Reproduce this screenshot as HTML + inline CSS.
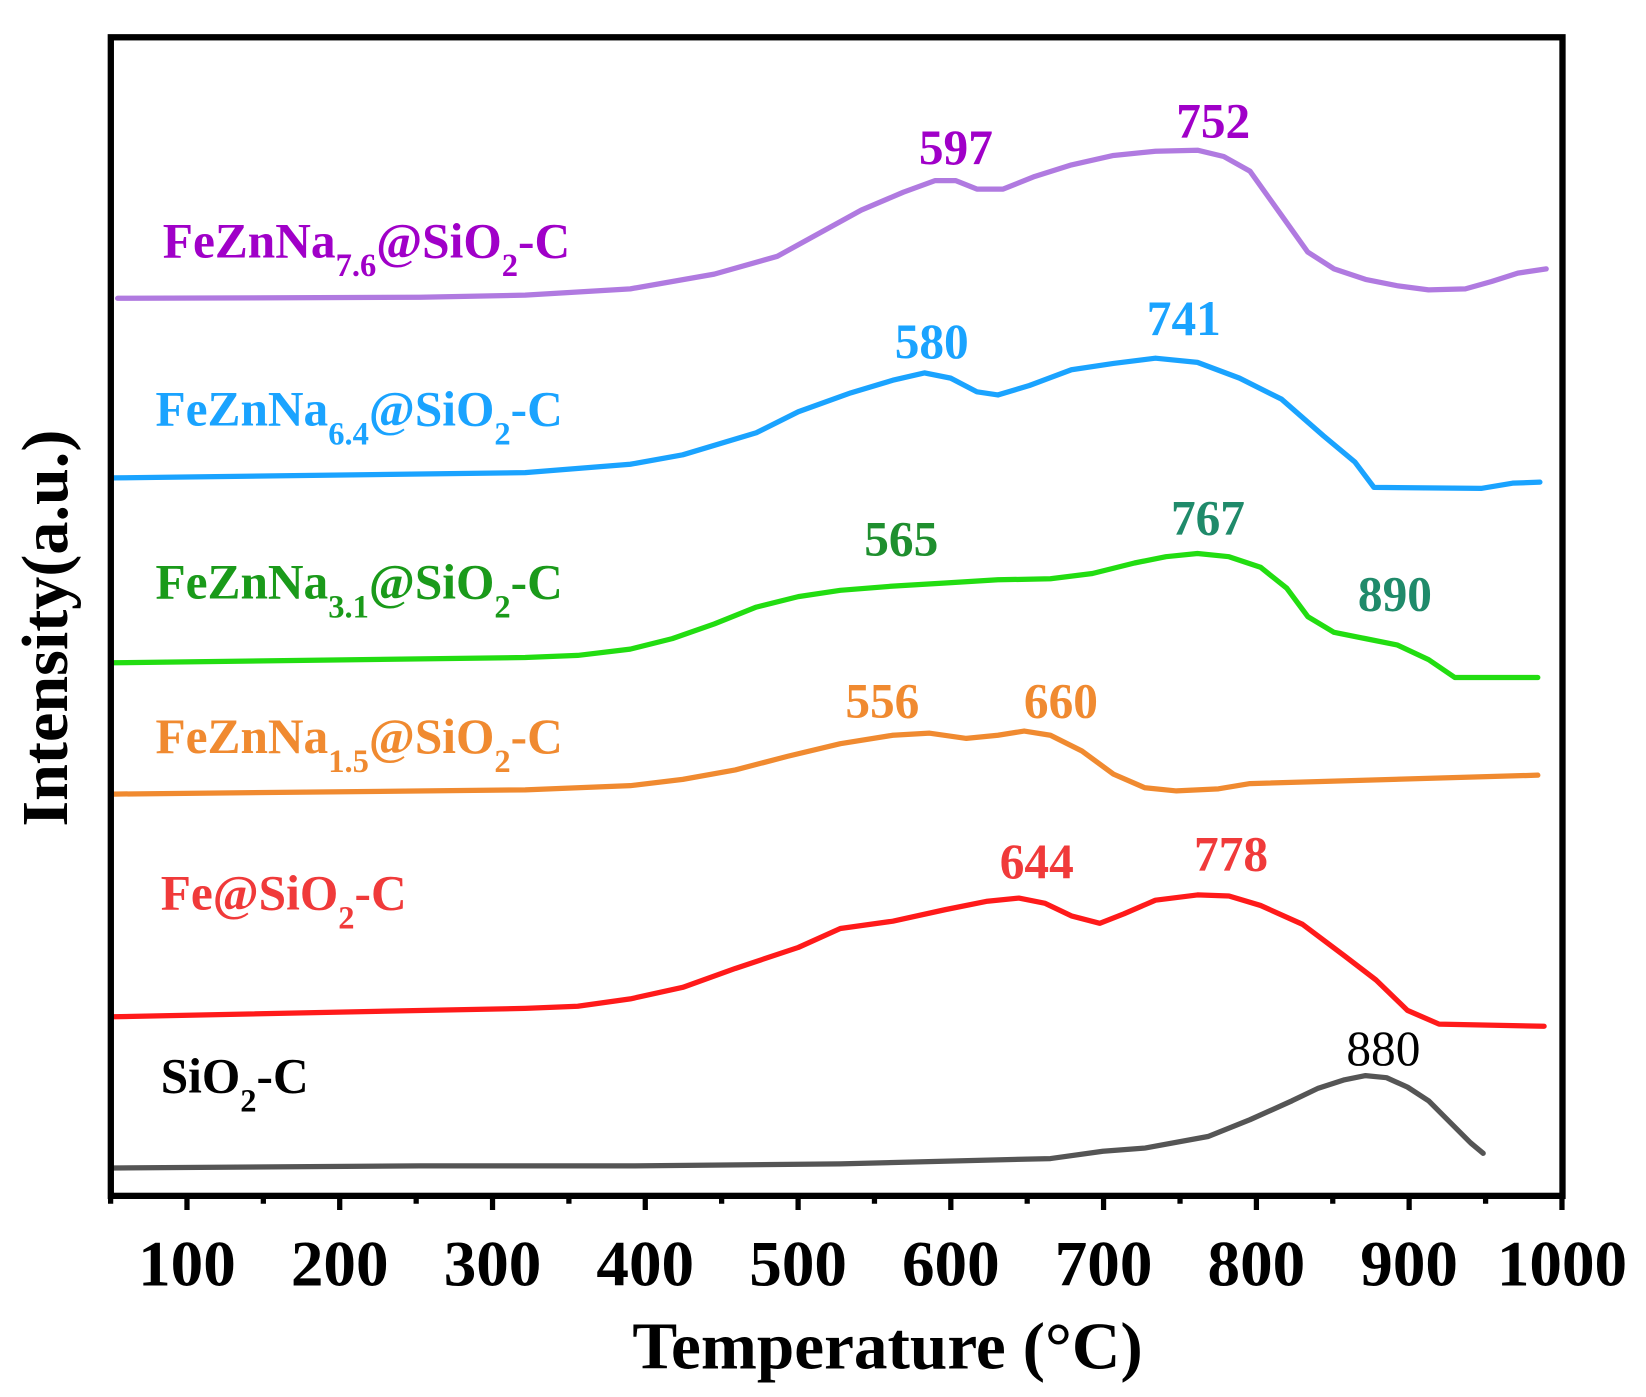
<!DOCTYPE html>
<html><head><meta charset="utf-8"><style>html,body{margin:0;padding:0;background:#fff}svg{display:block}</style></head>
<body>
<svg width="1646" height="1397" viewBox="0 0 1567 1330" preserveAspectRatio="none" xmlns="http://www.w3.org/2000/svg" font-family="Liberation Serif, serif" font-weight="bold">
<rect width="1567" height="1330" fill="#fff"/>
<g fill="none" stroke-width="5" stroke-linejoin="round" stroke-linecap="round">
<polyline stroke="#555" points="108,1112 400,1110 600,1110 800,1108 1000,1103 1050,1096 1090,1093 1150,1082 1190,1066 1230,1048 1255,1036 1280,1028 1300,1024 1320,1026 1340,1035 1360,1048 1380,1068 1400,1088 1412,1098"/>
<polyline stroke="#ff1a1a" points="108,968 500,960 550,958 600,951 650,940 700,922 760,902 800,884 850,877 900,866 940,858 970,855 995,860 1020,872 1047,879 1070,870 1100,857 1140,852 1170,853 1200,862 1240,880 1280,910 1310,933 1340,962 1370,975 1470,977"/>
<polyline stroke="#f08a30" points="108,756 500,752 600,748 650,742 700,733 750,720 800,708 850,700 885,698 920,703 950,700 975,696 1000,700 1030,715 1060,737 1090,750 1120,753 1160,751 1190,746 1464,738"/>
<polyline stroke="#22dd11" points="108,631 500,626 550,624 600,618 640,608 680,594 720,578 760,568 800,562 850,558 900,555 950,552 1000,551 1040,546 1080,536 1110,530 1140,527 1170,530 1200,540 1225,560 1245,587 1270,602 1300,608 1330,614 1360,628 1385,645 1464,645"/>
<polyline stroke="#1aa3ff" points="108,455 500,450 600,442 650,433 720,412 760,392 810,374 850,362 880,355 905,360 930,373 950,376 980,367 1020,352 1060,346 1100,341 1140,345 1180,360 1220,380 1260,415 1290,440 1308,464 1410,465 1440,460 1466,459"/>
<polyline stroke="#b07ae0" points="112,284 400,283 500,281 600,275 680,261 740,244 780,222 820,200 860,183 890,172 910,172 930,180 955,180 985,168 1020,157 1060,148 1100,144 1140,143 1165,149 1190,163 1220,205 1245,240 1270,256 1300,266 1330,272 1360,276 1395,275 1420,268 1445,260 1472,256"/>
</g>
<rect x="105.5" y="35.5" width="1382" height="1103" fill="none" stroke="#000" stroke-width="6"/>
<g stroke="#000" stroke-width="5">
<path d="M178,1140v12M323.4,1140v12M468.9,1140v12M614.3,1140v12M759.8,1140v12M905.2,1140v12M1050.6,1140v12M1196.1,1140v12M1341.5,1140v12M1487,1140v12"/>
<path d="M105.3,1140v6M250.7,1140v6M396.2,1140v6M541.6,1140v6M687,1140v6M832.5,1140v6M977.9,1140v6M1123.4,1140v6M1268.8,1140v6M1414.3,1140v6"/>
</g>
<g font-size="62" text-anchor="middle" fill="#000">
<text x="178" y="1224">100</text><text x="323.4" y="1224">200</text><text x="468.9" y="1224">300</text><text x="614.3" y="1224">400</text><text x="759.8" y="1224">500</text><text x="905.2" y="1224">600</text><text x="1050.6" y="1224">700</text><text x="1196.1" y="1224">800</text><text x="1341.5" y="1224">900</text><text x="1487" y="1224">1000</text>
<text x="845" y="1303" font-size="64">Temperature (°C)</text>
<text transform="translate(64,598) rotate(-90)" font-size="63">Intensity(a.u.)</text>
</g>
<g font-size="47">
<text x="155" y="245" fill="#a000c8">FeZnNa<tspan font-size="31" dy="18">7.6</tspan><tspan dy="-18">@SiO</tspan><tspan font-size="31" dy="18">2</tspan><tspan dy="-18">-C</tspan></text>
<text x="910" y="156" fill="#a000c8" text-anchor="middle">597</text>
<text x="1155" y="131" fill="#a000c8" text-anchor="middle">752</text>
<text x="148" y="405" fill="#1aa3ff">FeZnNa<tspan font-size="31" dy="18">6.4</tspan><tspan dy="-18">@SiO</tspan><tspan font-size="31" dy="18">2</tspan><tspan dy="-18">-C</tspan></text>
<text x="887" y="341" fill="#1aa3ff" text-anchor="middle">580</text>
<text x="1127" y="319" fill="#1aa3ff" text-anchor="middle">741</text>
<text x="148" y="570" fill="#1a9a1a">FeZnNa<tspan font-size="31" dy="18">3.1</tspan><tspan dy="-18">@SiO</tspan><tspan font-size="31" dy="18">2</tspan><tspan dy="-18">-C</tspan></text>
<text x="858" y="529" fill="#1f8f2f" text-anchor="middle">565</text>
<text x="1150" y="509" fill="#1f8a6a" text-anchor="middle">767</text>
<text x="1328" y="581" fill="#1f8a6a" text-anchor="middle">890</text>
<text x="148" y="717" fill="#f08a30">FeZnNa<tspan font-size="31" dy="18">1.5</tspan><tspan dy="-18">@SiO</tspan><tspan font-size="31" dy="18">2</tspan><tspan dy="-18">-C</tspan></text>
<text x="840" y="683" fill="#f08a30" text-anchor="middle">556</text>
<text x="1010" y="683" fill="#f08a30" text-anchor="middle">660</text>
<text x="153" y="866" fill="#f03a3a">Fe@SiO<tspan font-size="31" dy="18">2</tspan><tspan dy="-18">-C</tspan></text>
<text x="987" y="836" fill="#f03a3a" text-anchor="middle">644</text>
<text x="1172" y="829" fill="#f03a3a" text-anchor="middle">778</text>
<text x="153" y="1040" fill="#000">SiO<tspan font-size="31" dy="18">2</tspan><tspan dy="-18">-C</tspan></text>
<text x="1317" y="1014" fill="#000" text-anchor="middle" font-weight="normal">880</text>
</g>
</svg>
</body></html>
